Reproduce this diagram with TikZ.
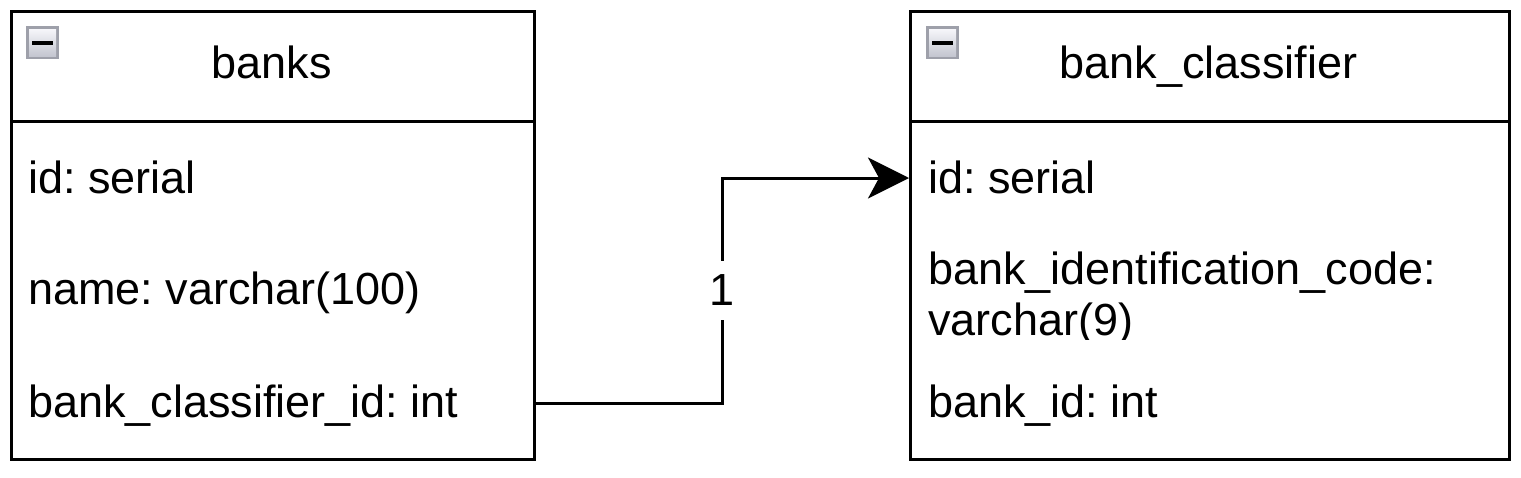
\documentclass[tikz,border=0pt]{standalone}
\usepackage{fontspec}
\setmainfont{Liberation Sans}
\usetikzlibrary{arrows.meta,calc}
\definecolor{iconborder}{HTML}{9EA0AA}
\definecolor{icontop}{HTML}{F6F6FA}
\definecolor{iconbot}{HTML}{C4C6D0}
\begin{document}
\frenchspacing
\begin{tikzpicture}[x=1pt,y=-1pt,
  font=\fontsize{45}{51}\selectfont,
  tbl/.style={draw, line width=3pt, minimum width=#1, minimum height=448pt, inner sep=0pt, anchor=north west},
  sep/.style={line width=3pt},
  txt/.style={inner sep=0pt, anchor=base west},
  ttl/.style={inner sep=0pt, anchor=base},
  conn/.style={line width=3pt, -{Stealth[length=41pt,width=41pt,inset=11pt]}},
  lbl/.style={fill=white, inner xsep=6pt, inner ysep=14pt}]
\useasboundingbox (0,0) rectangle (1521,477);

% ---- banks table ----
\node[tbl=523pt] (banks) at (10,10) {};
\draw[sep] (banks.west |- 0,121) -- (banks.east |- 0,121);
\begin{scope}[shift={(26,26)}]
  \fill[iconborder] (0,0) rectangle (33,33);
  \shade[top color=icontop, bottom color=iconbot] (3,3) rectangle (30,30);
  \fill[black] (6,15) rectangle (27,19);
\end{scope}
\node[ttl] (banksT) at (271.5,78) {banks};
\node[txt] (b1) at (28,193) {id: serial};
\node[txt] (b2) at (28,304) {name: varchar(100)};
\node[txt] (b3) at (28,417) {bank\_classifier\_id: int};

% ---- bank_classifier table ----
\node[tbl=599pt] (bc) at (909,10) {};
\draw[sep] (bc.west |- 0,121) -- (bc.east |- 0,121);
\begin{scope}[shift={(926,26)}]
  \fill[iconborder] (0,0) rectangle (33,33);
  \shade[top color=icontop, bottom color=iconbot] (3,3) rectangle (30,30);
  \fill[black] (6,15) rectangle (27,19);
\end{scope}
\node[ttl] (bcT) at (1208.5,78) {bank\_classifier};
\node[txt] (c1) at (928,193) {id: serial};
\node[txt] (c2) at (928,284) {bank\_identification\_code:};
\begin{scope}
  \clip (912,300) rectangle (1505,339);
  \node[txt] (c2b) at (928,335) {varchar(9)};
\end{scope}
\node[txt] (c3) at (928,417) {bank\_id: int};

% ---- connector ----
\coordinate (A) at ($(banks.north east)+(0,393)$);
\coordinate (B) at ($(bc.north west)+(0,168)$);
\coordinate (M) at ($(A)!0.5!(B)$);
\draw[conn] (A) -| (M) |- (B);
\node[lbl] (one) at (M) {1};
\end{tikzpicture}
\end{document}
